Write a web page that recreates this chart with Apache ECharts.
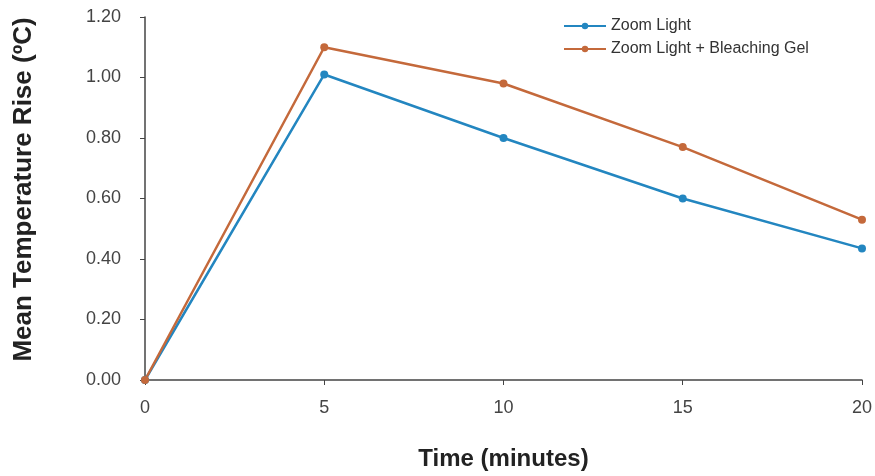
<!DOCTYPE html>
<html>
<head>
<meta charset="utf-8">
<script src="https://cdn.jsdelivr.net/npm/echarts@6/dist/echarts.min.js"></script>
<style>
html,body{margin:0;padding:0;background:#fff;}
#chart{width:875px;height:476px;}
</style>
</head>
<body>
<div id="chart"></div>
<script>
var times = [0, 5, 10, 15, 20];
var zoomLight = [0, 1.01, 0.80, 0.60, 0.435];
var zoomLightGel = [0, 1.10, 0.98, 0.77, 0.53];
var seriesNames = ['Zoom Light', 'Zoom Light + Bleaching Gel'];
var colors = ['#2386c0', '#c4693b'];

function pairs(xs, ys) { return xs.map(function (x, i) { return [x, ys[i]]; }); }

var chart = echarts.init(document.getElementById('chart'), null, {renderer: 'canvas'});
var font = 'Liberation Sans, Arial, sans-serif';
chart.setOption({
  animation: false,
  color: colors,
  textStyle: {fontFamily: font},
  grid: {left: 145, right: 11, top: 17, bottom: 95, containLabel: false},
  legend: {
    orient: 'vertical',
    left: 558,
    top: 13,
    itemWidth: 42,
    itemHeight: 8,
    itemGap: 7,
    textStyle: {fontSize: 16, color: '#333', fontFamily: font},
    data: seriesNames
  },
  xAxis: {
    type: 'value',
    min: 0, max: 20, interval: 5,
    name: 'Time (minutes)',
    nameLocation: 'middle',
    nameGap: 67,
    nameTextStyle: {fontSize: 24, fontWeight: 'bold', color: '#222', fontFamily: font},
    axisLine: {show: true, lineStyle: {color: '#444', width: 1.5}},
    axisTick: {show: true, length: 5, lineStyle: {color: '#444'}},
    axisLabel: {fontSize: 18, color: '#444', margin: 19},
    splitLine: {show: false}
  },
  yAxis: {
    type: 'value',
    min: 0, max: 1.2, interval: 0.2,
    name: 'Mean Temperature Rise (ºC)',
    nameLocation: 'middle',
    nameGap: 108,
    nameRotate: 90,
    nameTextStyle: {fontSize: 26, fontWeight: 'bold', color: '#222', fontFamily: font, padding: [0, 0, 0, 18]},
    axisLine: {show: true, lineStyle: {color: '#444', width: 1.5}},
    axisTick: {show: true, length: 5, lineStyle: {color: '#444'}},
    axisLabel: {fontSize: 18, color: '#444', margin: 24, formatter: function (v) { return v.toFixed(2); }},
    splitLine: {show: false}
  },
  series: [
    {
      name: seriesNames[0], type: 'line', data: pairs(times, zoomLight),
      symbol: 'circle', symbolSize: 8,
      lineStyle: {width: 2.5}, itemStyle: {color: colors[0]}
    },
    {
      name: seriesNames[1], type: 'line', data: pairs(times, zoomLightGel),
      symbol: 'circle', symbolSize: 8,
      lineStyle: {width: 2.5}, itemStyle: {color: colors[1]}
    }
  ]
});
</script>
</body>
</html>
